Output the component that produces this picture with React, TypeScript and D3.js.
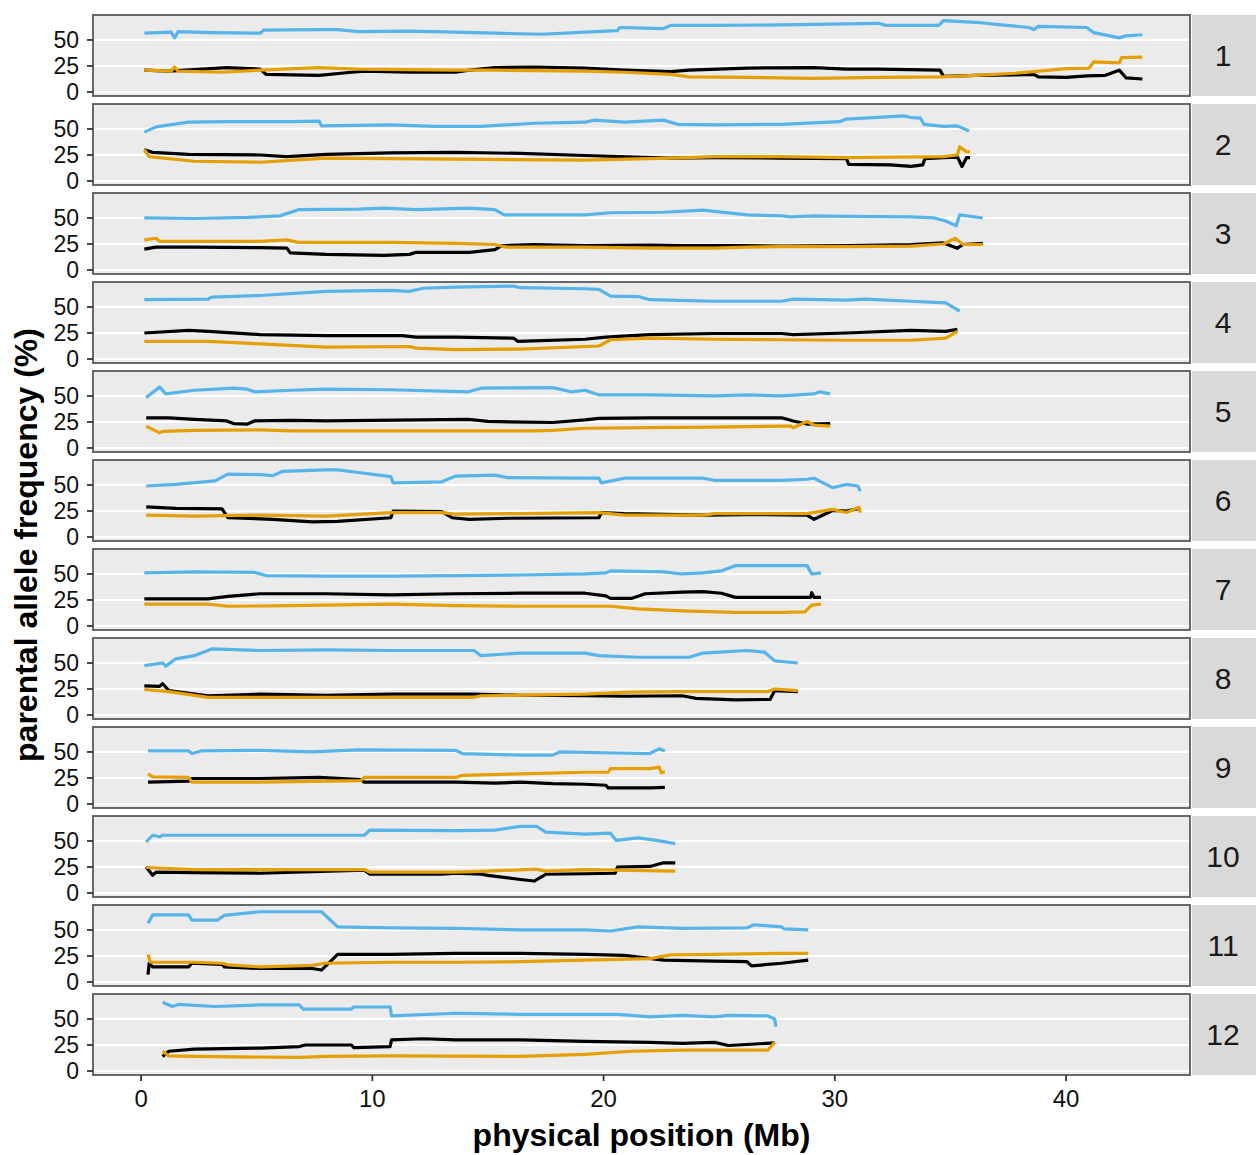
import React from "react";
import * as d3 from "d3";

type Pt = [number, number];

// chromosome labels (facet strips)
const chromosomes = ["1", "2", "3", "4", "5", "6", "7", "8", "9", "10", "11", "12"];
const yTicks = [0, 25, 50];
const xTicks = [0, 10, 20, 30, 40];

// [position Mb, parental allele frequency %]
const chr1Blue: Pt[] = [[0.14,56.5],[1.3,57.5],[1.45,52],[1.6,58],[3,57],[5.15,56.5],[5.3,59.5],[7.7,60],[8.5,60],[9.4,58],[11.6,58.5],[13.6,57.5],[15.3,56.5],[17.3,55.5],[19.2,57.5],[20.6,59],[20.7,62],[22.6,61],[22.9,64],[24.8,64],[27.7,64.5],[30.5,65.5],[31.9,66],[32.2,64],[34.5,64],[34.7,68.5],[36.1,67],[37.2,64.5],[38.4,62],[38.6,60],[38.8,63],[40.9,62],[41.2,57],[42.3,52],[42.6,54],[43.3,55]];
const chr1Black: Pt[] = [[0.14,21],[1.2,20],[3.7,23.5],[5.15,22],[5.4,17],[7.7,16],[9.1,19],[9.7,20],[11.6,19],[13.6,19],[14.2,21],[15.3,23.5],[17,24],[19.2,23],[20.9,21],[22.9,19.5],[23.7,21],[26.2,23],[29.1,23.5],[30.5,22],[31.9,22],[34.55,21],[34.7,15],[36.1,16],[37.8,16.5],[38.6,17],[38.8,14.5],[40,14],[40.9,15.5],[41.7,16],[42.3,21],[42.6,13.5],[43.3,12.5]];
const chr1Orange: Pt[] = [[0.14,21],[1.3,20],[1.45,24],[1.6,20],[3.5,19],[5.15,21],[7.7,23.5],[9.4,22],[13.6,21],[15.3,21],[19.2,20],[20.9,19],[22.9,17],[23.7,14.5],[26.2,14],[29.1,13],[31.9,14],[34.6,14.5],[36.1,16],[37.8,18],[38.6,19.5],[40,22.5],[41,23],[41.2,29],[42.3,28],[42.4,33],[43.3,33.5]];

const chr2Blue: Pt[] = [[0.14,47],[0.65,52],[2.05,56.5],[3.7,57],[6.5,57],[7.7,57.5],[7.8,53],[10.8,54],[12.7,52.5],[14.7,52.5],[17,55.5],[19.2,56.5],[19.6,58.5],[20.9,56.5],[22.6,58.5],[23.2,54.5],[24.8,54],[27.7,54.5],[30.2,57],[30.5,59.5],[33,62.5],[33.3,61],[33.7,60.5],[33.85,54.5],[34.7,52.5],[35.3,53],[35.8,48]];
const chr2Black: Pt[] = [[0.14,30],[0.5,27.5],[2.05,25.5],[5.15,25],[6.3,23.5],[8,25.5],[10.8,27],[13.6,27.5],[16.4,26.5],[19.2,24.5],[22.9,22],[24.8,22.5],[27.7,22],[30.5,21.5],[30.6,16],[32.4,15.5],[33.3,14],[33.8,15.5],[33.9,21.5],[34.7,22.5],[35.3,23],[35.5,14],[35.7,22.5],[35.85,22.5]];
const chr2Orange: Pt[] = [[0.14,30],[0.35,23.5],[2.3,19],[5.15,18],[8,22],[13.6,21],[19.2,20],[22.9,22],[24.8,23.5],[27.7,23.5],[30.5,22.5],[34.7,23.5],[35.3,25],[35.4,33],[35.7,28],[35.85,28]];

const chr3Blue: Pt[] = [[0.14,50],[2.3,49.5],[4.6,50.5],[6,52],[6.8,58],[9.4,58.5],[10.5,59.5],[11.9,58],[14.2,59.5],[15.3,58],[15.7,53],[17.5,53],[19.2,53],[20.3,55],[22.6,55.5],[24.3,57.5],[26.2,53],[27.7,52],[28.1,51],[29.1,52],[30.5,51.5],[33.3,51],[34.3,50],[34.8,47],[35.25,42.5],[35.4,53],[36.4,50]];
const chr3Black: Pt[] = [[0.14,20],[0.65,22],[2.3,22],[5.15,21.5],[6.3,21],[6.45,16.5],[8,15],[10.5,14],[11.6,15],[11.9,17],[14.2,17],[15.3,19.5],[15.6,23.5],[17,24.5],[19.2,23.5],[22,24],[23.4,23.5],[26,23.5],[27.7,23],[30.5,23.5],[33.3,24.5],[34.7,26],[35.3,21],[35.55,24.5],[36.4,25.5]];
const chr3Orange: Pt[] = [[0.14,29],[0.65,30.5],[0.8,27.5],[2.3,27.5],[5.15,27.5],[6.3,29],[6.8,26.5],[10.8,26.5],[13.6,25.5],[15.3,24.5],[15.8,22],[19.2,22],[22,21],[24.8,21],[26.2,22],[27.7,22.5],[30.5,22.5],[33.3,23],[34.7,25],[35.2,30.5],[35.55,24.5],[36.4,24.5]];

const chr4Blue: Pt[] = [[0.14,57],[2.9,57.5],[3.05,59.5],[5.15,61],[8,65],[10.8,66],[11.6,65],[12.2,68],[13.6,69],[16.1,70],[16.4,68.5],[19.2,67.5],[19.8,67],[20.3,60.5],[21.5,60],[22,57],[24.8,55.5],[27.7,55.5],[28.2,57.5],[30.5,56.5],[31.3,57.5],[33.3,55.5],[34.8,54],[35.4,46]];
const chr4Black: Pt[] = [[0.14,25],[2.05,27.5],[2.9,26.5],[5.15,23.5],[8,22.5],[11.3,22.5],[11.9,21],[13.6,21],[16.1,20],[16.3,17],[19.2,19],[20.1,21],[22,23.5],[24.8,24.5],[27.7,24.5],[28.2,23.5],[30.5,25],[33.3,27.5],[34.8,26.5],[35.3,28.5]];
const chr4Orange: Pt[] = [[0.14,17],[2.9,17],[5.15,14.5],[8,11.5],[11.6,12],[11.9,10.5],[13.6,9],[16.4,9.5],[19.8,12.5],[20.3,18.5],[22,20],[24.8,19],[27.7,18.5],[30.5,18],[33.3,18],[34.8,20],[35.3,26.5]];

const chr5Blue: Pt[] = [[0.22,48.5],[0.8,58.5],[1.07,52],[2.3,55.5],[4,57.5],[4.6,56.5],[4.9,54],[6.5,55.5],[8,56.5],[10.8,56],[14.15,54],[14.7,57.5],[17.8,58],[18.6,54],[19.2,55.5],[19.8,51],[22,51],[24.8,50],[26.2,51],[27.7,50],[29.1,52],[29.35,54],[29.8,52]];
const chr5Black: Pt[] = [[0.22,29],[1.2,29],[2.3,27.5],[3.7,26],[4,23.5],[4.6,23],[4.9,26],[6.5,26.5],[8,26],[14.15,27.5],[15,25.5],[17.8,24.5],[19.2,27],[19.8,28.5],[22,29],[24.8,29],[27.7,29],[28.2,26],[28.8,23],[29.8,23.5]];
const chr5Orange: Pt[] = [[0.22,21],[0.8,14.5],[0.93,16],[2.3,17],[5.15,17.5],[6.5,16.5],[10.8,16.5],[17,16.5],[17.8,17],[19.2,19],[22,19.5],[24.8,20],[27.7,21],[28.1,21],[28.2,19.5],[28.8,25.5],[29.1,22],[29.8,21]];

const chr6Blue: Pt[] = [[0.22,49],[1.5,50.5],[3.2,54],[3.75,60.5],[5.15,60],[5.7,59],[6.1,63],[8,64.5],[8.5,64.5],[9.4,62],[10.8,58],[10.9,52],[13,53],[13.6,58.5],[15.3,59.5],[15.85,57],[19.2,56.5],[19.8,56.5],[19.9,52],[20.9,56.5],[24.3,56.5],[24.8,54.5],[27.7,54.5],[28.8,55.5],[29.1,56.5],[29.9,47.5],[30.5,50.5],[31,49],[31.1,44]];
const chr6Black: Pt[] = [[0.22,29],[1.5,27.5],[3.5,27],[3.75,18.5],[5.7,17],[7.4,14.5],[8.5,15],[10.8,18.5],[10.9,25],[13,24.5],[13.45,18.5],[14.2,17],[15.85,18],[19.8,18.5],[19.9,23.5],[20.9,22.5],[24.3,21],[26.2,21.5],[28.8,21],[29.1,17],[29.9,25.5],[30.5,25],[31.1,27.5]];
const chr6Orange: Pt[] = [[0.22,21],[2.3,20],[5.15,21],[8,20],[10.8,23.5],[13,23.5],[13.6,22],[16.4,22.5],[19.8,23.5],[20.9,21],[24.3,21],[24.8,22.5],[28.8,22.5],[29.9,26.5],[30.5,23.5],[31.05,28.5],[31.1,23.5]];

const chr7Blue: Pt[] = [[0.14,51],[2.3,52],[4.9,51.5],[5.4,48.5],[8,48],[10.8,48],[13.6,48.5],[16.4,49],[19.2,50],[20.1,51],[20.3,53],[22.6,52],[23.4,50],[24.3,51],[25.1,53],[25.7,58],[27.7,58],[28.8,58],[29,50],[29.4,51]];
const chr7Black: Pt[] = [[0.14,26],[2.9,26],[3.75,28.5],[5.15,31],[8,31],[10.8,30],[13.6,31],[16.4,31.5],[19.2,31.5],[20.1,29],[20.3,26.5],[21.2,26.5],[21.8,31],[23.4,32.5],[24.3,33],[25.1,31.5],[25.7,27.5],[27.7,27.5],[28.95,27.5],[29,32],[29.1,27.5],[29.4,27.5]];
const chr7Orange: Pt[] = [[0.14,21],[2.9,21],[3.75,19],[6.5,19.5],[10.8,21],[13.6,19.5],[16.4,19],[20.3,19],[21.5,16.5],[23.4,14.5],[25.7,13],[27.7,13],[28.7,13.5],[29,20],[29.4,21]];

const chr8Blue: Pt[] = [[0.14,47.5],[0.93,50],[1.07,47],[1.5,54],[2.3,57],[3.05,63.5],[5.15,62],[8,62.5],[10.8,62],[14.4,62],[14.7,57],[16.4,59.5],[19.2,59.5],[19.8,57],[21.5,55.5],[23.7,55.5],[24.3,59.5],[26.2,62],[26.95,60.5],[27.4,52],[28.4,50]];
const chr8Black: Pt[] = [[0.14,28],[0.8,27.5],[0.93,30],[1.2,23.5],[2.9,18.5],[5.15,20],[8,19],[10.8,20],[14.4,20],[16.4,19],[19.2,18.5],[20.9,18],[23.4,18.5],[24,16],[25.7,14.5],[27.2,15],[27.4,23.5],[28.4,22.5]];
const chr8Orange: Pt[] = [[0.14,24.5],[1.2,22.5],[2.9,17],[5.15,17],[8,17],[14.4,17],[14.7,18.5],[19.2,20],[21.2,22],[23.4,22.5],[27.1,22.5],[27.4,25],[28.4,23.5]];

const chr9Blue: Pt[] = [[0.3,51],[2.05,51],[2.2,48.5],[2.6,51],[5.15,51.5],[7.4,50],[9.4,52],[13.6,51.5],[13.9,48.5],[16.4,47],[17.8,47],[18.1,50],[20.6,49],[22,48.5],[22.4,53],[22.65,51]];
const chr9Black: Pt[] = [[0.3,21],[2.05,22],[2.2,24.5],[5.15,24.5],[7.7,25.5],[9.5,23.5],[9.65,21],[13.6,21],[15.3,20],[16.4,21],[17.8,19.5],[19.2,19],[20.1,18],[20.2,15.5],[22,15.5],[22.65,16]];
const chr9Orange: Pt[] = [[0.3,29],[0.5,26],[2.05,25.5],[2.2,21],[5.15,21],[9.5,22.5],[9.65,25.5],[13.6,25.5],[13.9,27.5],[16.4,29],[19.2,30.5],[20.2,30.5],[20.3,34],[22,34],[22.4,35.5],[22.5,30],[22.65,31]];

const chr10Blue: Pt[] = [[0.22,49],[0.5,55.5],[0.8,54],[0.93,55.5],[5.15,55.5],[9.65,55.5],[9.9,60.5],[13.6,60],[15.3,60.5],[16.4,64],[17.1,64],[17.5,58.5],[19.2,56.5],[20.3,57.5],[20.55,50.5],[21.5,53],[22.3,50.5],[23.1,47.5]];
const chr10Black: Pt[] = [[0.22,25],[0.5,17],[0.65,20],[2.3,19.5],[5.15,19],[9.65,22],[9.9,18],[13,18],[13.6,19],[14.7,18],[15,17],[16.4,13],[17,11.5],[17.5,18],[19.2,18.5],[20.5,19],[20.6,25],[22,25.5],[22.6,29],[23.1,29]];
const chr10Orange: Pt[] = [[0.22,24.5],[2.3,22.5],[9.65,22.5],[9.9,20],[13.6,20],[15,21],[17.1,23],[17.5,21],[19.2,22.5],[20.55,22],[23.1,21]];

const chr11Blue: Pt[] = [[0.3,56.5],[0.5,64.5],[2.05,64.5],[2.2,59.5],[3.3,59.5],[3.6,64],[5.15,67.5],[7.4,67.5],[7.8,67.5],[8.5,53],[10.8,52],[13.6,51.5],[16.4,50],[19.2,50],[20.3,49],[21.5,53],[23.4,51.5],[26.2,52],[26.5,55],[27.7,53],[27.8,51],[28.85,50]];
const chr11Black: Pt[] = [[0.3,7],[0.35,18],[0.5,14.5],[2.05,14.5],[2.2,18],[3.5,17],[3.6,14.5],[5.15,13],[7.4,13],[7.8,11.5],[8.5,26.5],[10.8,26.5],[13.6,27.5],[16.4,27.5],[19.2,26.5],[20.9,25.5],[22.6,21],[24.8,20],[26.2,19.5],[26.4,15.5],[27.7,18],[28.85,21]];
const chr11Orange: Pt[] = [[0.3,26.5],[0.4,19],[2.3,19],[3.5,18],[3.75,16.5],[5.15,14.5],[7.4,16],[7.95,18],[10.8,19],[13.6,19],[16.4,19.5],[19.2,21],[22,22.5],[22.9,26],[24.8,26.5],[27.7,27.5],[28.85,27.5]];

const chr12Blue: Pt[] = [[0.93,66],[1.35,62],[1.6,64],[3.2,62],[5.15,63.5],[6.85,63.5],[7,59.5],[9.1,59.5],[9.2,61.5],[10.77,61.5],[10.83,53],[13.6,55.5],[16.4,54.5],[20.6,54.5],[22,52],[23.4,53.5],[24.8,52],[25.4,53.5],[27.1,53],[27.4,50],[27.45,42.5]];
const chr12Black: Pt[] = [[0.93,14],[1.2,19],[2.3,21],[5.15,22],[6.85,23.5],[7.1,25],[9.1,25],[9.2,22.5],[10.77,23.5],[10.83,30],[12.2,31],[13.6,30],[16.4,30],[19.2,28.5],[22,27.5],[23.4,26.5],[24.8,27.5],[25.4,24.5],[27.4,27]];
const chr12Orange: Pt[] = [[0.93,19],[1.2,14.5],[2.3,14],[6.85,13],[8,14],[10.8,14.5],[16.4,14],[19.2,16],[21.2,19],[23.4,20],[27.1,20],[27.4,27.5]];

const blueSeries = [chr1Blue, chr2Blue, chr3Blue, chr4Blue, chr5Blue, chr6Blue, chr7Blue, chr8Blue, chr9Blue, chr10Blue, chr11Blue, chr12Blue];
const blackSeries = [chr1Black, chr2Black, chr3Black, chr4Black, chr5Black, chr6Black, chr7Black, chr8Black, chr9Black, chr10Black, chr11Black, chr12Black];
const orangeSeries = [chr1Orange, chr2Orange, chr3Orange, chr4Orange, chr5Orange, chr6Orange, chr7Orange, chr8Orange, chr9Orange, chr10Orange, chr11Orange, chr12Orange];

const colors = { blue: "#56B4E9", black: "#000000", orange: "#E69F00" };

const App = () => {
  const width = 1256;
  const height = 1155;
  const panelLeft = 93;
  const panelRight = 1190;
  const firstTop = 15;
  const panelH = 81;
  const pitch = 89;
  const stripW = 64;
  const font = "'Liberation Sans', Arial, Helvetica, sans-serif";
  const lw = 3.2;

  const x = d3.scaleLinear().domain([-2.08, 45.36]).range([panelLeft, panelRight]);
  const line = (y: d3.ScaleLinear<number, number>) =>
    d3
      .line<Pt>()
      .x((d) => x(d[0]))
      .y((d) => y(d[1]));

  const lastBottom = firstTop + pitch * 11 + panelH;

  return (
    <svg
      width={width}
      height={height}
      style={{ position: "absolute", left: 0, top: 0, background: "#fff" }}
      fontFamily={font}
    >
      {chromosomes.map((chr, i) => {
        const top = firstTop + i * pitch;
        const y = d3.scaleLinear().domain([-3.85, 74]).range([top + panelH, top]);
        const gen = line(y);
        return (
          <g key={chr}>
            <rect x={panelLeft} y={top} width={panelRight - panelLeft} height={panelH} fill="#EBEBEB" />
            {yTicks.map((t) => (
              <line key={t} x1={panelLeft} x2={panelRight} y1={y(t)} y2={y(t)} stroke="#fff" strokeWidth={2.2} />
            ))}
            <path d={gen(blueSeries[i]) || ""} fill="none" stroke={colors.blue} strokeWidth={lw} strokeLinejoin="round" />
            <path d={gen(blackSeries[i]) || ""} fill="none" stroke={colors.black} strokeWidth={lw} strokeLinejoin="round" />
            <path d={gen(orangeSeries[i]) || ""} fill="none" stroke={colors.orange} strokeWidth={lw} strokeLinejoin="round" />
            <rect
              x={panelLeft}
              y={top}
              width={panelRight - panelLeft}
              height={panelH}
              fill="none"
              stroke="#5a5a5a"
              strokeWidth={1.8}
            />
            {yTicks.map((t) => (
              <g key={"yt" + t}>
                <line x1={panelLeft - 6} x2={panelLeft} y1={y(t)} y2={y(t)} stroke="#333" strokeWidth={1.8} />
                <text x={panelLeft - 14} y={y(t)} dy="0.36em" textAnchor="end" fontSize={23} fill="#111">
                  {t}
                </text>
              </g>
            ))}
            <rect x={panelRight + 2} y={top} width={stripW} height={panelH} fill="#D9D9D9" />
            <text
              x={panelRight + 2 + stripW / 2 - 1}
              y={top + panelH / 2}
              dy="0.36em"
              textAnchor="middle"
              fontSize={30}
              fill="#1a1a1a"
            >
              {chr}
            </text>
          </g>
        );
      })}
      {xTicks.map((t) => (
        <g key={"xt" + t}>
          <line x1={x(t)} x2={x(t)} y1={lastBottom} y2={lastBottom + 6} stroke="#333" strokeWidth={1.8} />
          <text x={x(t)} y={lastBottom + 32} textAnchor="middle" fontSize={24} fill="#111">
            {t}
          </text>
        </g>
      ))}
      <text
        x={(panelLeft + panelRight) / 2}
        y={1146}
        textAnchor="middle"
        fontSize={32}
        fontWeight="bold"
        fill="#000"
      >
        physical position (Mb)
      </text>
      <text
        transform={`translate(37,${(firstTop + lastBottom) / 2}) rotate(-90)`}
        textAnchor="middle"
        fontSize={32}
        fontWeight="bold"
        fill="#000"
      >
        parental allele frequency (%)
      </text>
    </svg>
  );
};

export default App;
